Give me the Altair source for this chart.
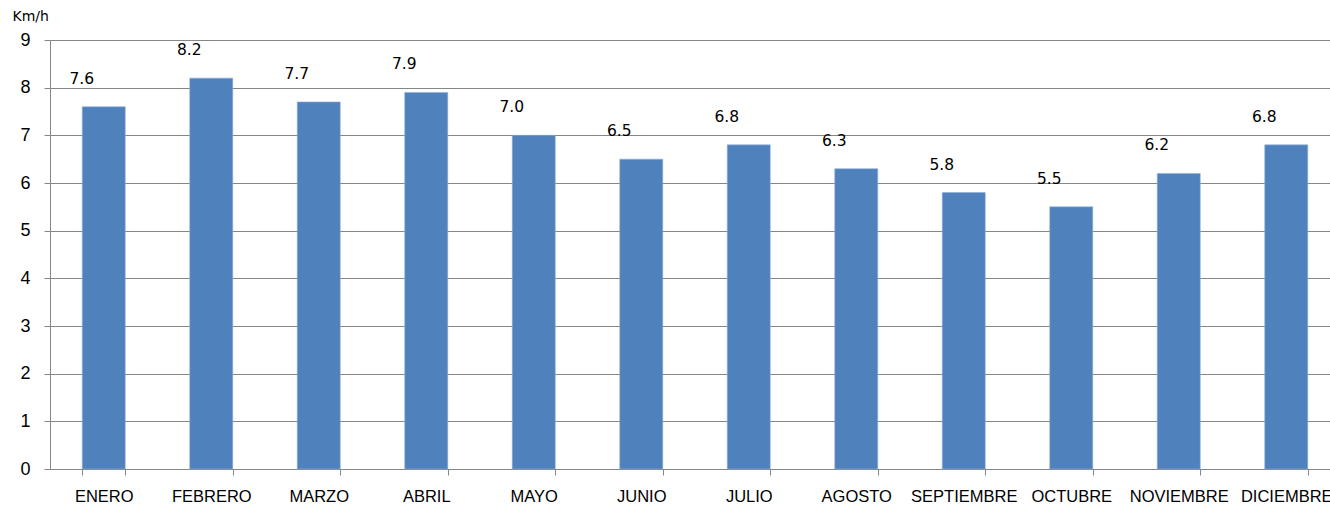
import altair as alt
import pandas as pd

months = ["ENERO", "FEBRERO", "MARZO", "ABRIL", "MAYO", "JUNIO", "JULIO",
          "AGOSTO", "SEPTIEMBRE", "OCTUBRE", "NOVIEMBRE", "DICIEMBRE"]
speed = [7.6, 8.2, 7.7, 7.9, 7.0, 6.5, 6.8, 6.3, 5.8, 5.5, 6.2, 6.8]
y_ticks = [0, 1, 2, 3, 4, 5, 6, 7, 8, 9]

df = pd.DataFrame({"mes": months, "v": speed})
df["lbl"] = df["v"].map(lambda x: f"{x:.1f}")

W = 1280
H = 429

x = alt.X("mes:N", sort=months,
          scale=alt.Scale(range=[0, 1290], paddingInner=0.6, paddingOuter=0.3),
          axis=alt.Axis(title=None, labelAngle=0, labelFont="Liberation Sans",
                        labelFontSize=16.5, labelColor="#000000", labelPadding=13,
                        tickBand="extent", tickSize=6, tickColor="#868686",
                        domainColor="#868686", grid=False))

y = alt.Y("v:Q", scale=alt.Scale(domain=[0, 9], nice=False),
          axis=alt.Axis(values=y_ticks, title="Km/h", titleAngle=0,
                        titleAlign="left", titleBaseline="middle",
                        titleX=-38, titleY=-24, titleFont="DejaVu Sans",
                        titleFontSize=14, titleFontWeight="normal",
                        titleColor="#000000",
                        labelFont="Liberation Sans", labelFontSize=18,
                        labelColor="#000000", labelPadding=14,
                        tickSize=6, tickColor="#868686",
                        domainColor="#868686",
                        gridColor="#868686", gridWidth=1.2))

bars = alt.Chart(df).mark_bar(color="#4f81bd", stroke="#8fb0d8",
                              strokeWidth=0.6).encode(x=x, y=y)

labels = alt.Chart(df).mark_text(font="DejaVu Sans", fontSize=15.5,
                                 color="#000000", baseline="middle",
                                 dy=-28, dx=-22).encode(
    x=alt.X("mes:N", sort=months), y="v:Q", text="lbl:N")

chart = (bars + labels).properties(
    width=W, height=H,
    autosize=alt.AutoSizeParams(type="none"),
    padding={"left": 50, "top": 40, "right": 0, "bottom": 36},
).configure_view(stroke=None).configure(background="#ffffff")

chart.save("out.html", embed_options={"renderer": "svg", "actions": False})
